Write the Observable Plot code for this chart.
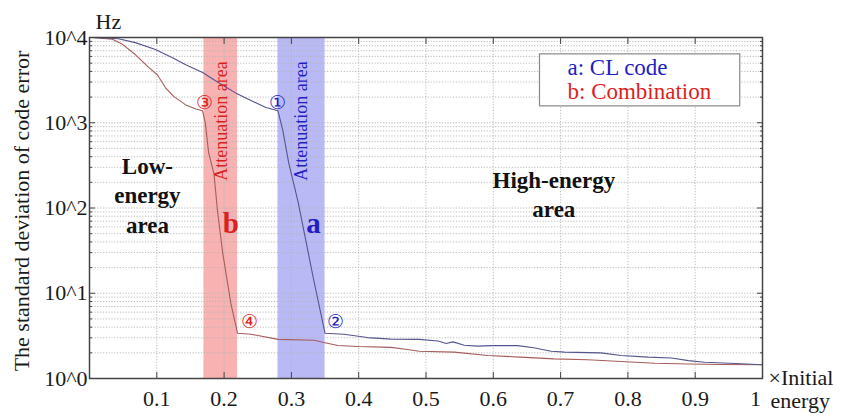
<!DOCTYPE html>
<html>
<head>
<meta charset="utf-8">
<script src="https://cdn.jsdelivr.net/npm/d3@7"></script>
<script src="https://cdn.jsdelivr.net/npm/@observablehq/plot@0.6"></script>
<style>
  body { margin: 0; background: #fff; }
  #chart svg, #chart svg text { font-family: "Liberation Serif", serif; }
</style>
</head>
<body>
<div id="chart"></div>
<script>
// ---- data ----
const energyA = [0.005,0.043,0.068,0.098,0.124,0.143,0.168,0.192,0.217,0.243,0.262,0.280,0.287,0.296,0.310,0.333,0.350,0.378,0.413,0.448,0.490,0.518,0.530,0.540,0.557,0.577,0.597,0.636,0.660,0.686,0.706,0.760,0.790,0.830,0.865,0.890,0.914,0.960,1.000];
const sdA     = [10000,9660,8710,7240,5750,4790,3890,2950,2240,1780,1510,1380,832,339,117,14.5,3.39,3.31,3.02,2.90,2.88,2.75,2.57,2.69,2.45,2.40,2.43,2.43,2.29,2.09,2.04,2.00,1.86,1.78,1.74,1.62,1.55,1.50,1.45];
const energyB = [0.005,0.034,0.049,0.068,0.088,0.101,0.113,0.125,0.143,0.158,0.168,0.172,0.177,0.185,0.190,0.198,0.210,0.220,0.240,0.280,0.334,0.348,0.369,0.400,0.448,0.470,0.490,0.542,0.592,0.640,0.690,0.740,0.790,0.840,0.890,0.940,1.000];
const sdB     = [10000,9550,8320,6310,4470,3630,2570,2040,1620,1450,1380,1000,447,251,95.5,29.5,7.59,3.39,3.31,2.88,2.81,2.65,2.44,2.37,2.32,2.20,2.09,2.04,1.86,1.78,1.70,1.66,1.58,1.51,1.48,1.46,1.45];

const xTicks = [0.1,0.2,0.3,0.4,0.5,0.6,0.7,0.8,0.9,1];
const xTickLabels = ["0.1","0.2","0.3","0.4","0.5","0.6","0.7","0.8","0.9","1"];
const yTicks = [1,10,100,1000,10000];
const yTickLabels = ["10^0","10^1","10^2","10^3","10^4"];
const minorMantissas = [2,3,4,5,6,7,8,9];
const minorY = yTicks.slice(0, -1).flatMap(p => minorMantissas.map(m => m * p));

const bandSeries = ["b", "a"];
const bandStart = [0.17, 0.28];
const bandEnd = [0.22, 0.35];

const legendLabels = ["a: CL code", "b: Combination"];
const legendSeries = ["a", "b"];

// annotations (data coordinates)
const areaLabels = ["Low-\nenergy\narea", "High-energy\narea"];
const areaX = [0.086, 0.69];
const areaY = [146, 150];
const curveLetters = ["b", "a"];
const letterX = [0.21, 0.333];
const letterY = [66, 65];
const attenX = [0.195, 0.314];
const attenY = [1050, 1050];
const pointMarks = ["③", "①", "④", "②"];
const pointSeries = ["b", "a", "b", "a"];
const pointX = [0.171, 0.28, 0.238, 0.365];
const pointY = [1720, 1720, 4.56, 4.56];

// ---- tables ----
const tableA = energyA.map((x, i) => ({x, y: sdA[i]}));
const tableB = energyB.map((x, i) => ({x, y: sdB[i]}));
const bands = bandSeries.map((s, i) => ({s, x1: bandStart[i], x2: bandEnd[i]}));
const xLabelMap = new Map(xTicks.map((t, i) => [t, xTickLabels[i]]));
const yLabelMap = new Map(yTicks.map((t, i) => [t, yTickLabels[i]]));
const xTicksInner = xTicks.slice(0, -1);
const xTicksLast = xTicks.slice(-1);

const serif = "Liberation Serif";
const circled = "Noto Sans CJK JP";
const bandColor = {b: "#f8b2b2", a: "#b9b9f6"};
const textColor = {a: "#1f1fc4", b: "#dc1f1f"};
const lineColorA = "#55558f";
const lineColorB = "#a65c5c";
const gridColor = "#b4b4b4";
const frameColor = "#444";
const ink = "#1a1a1a";

const chart = Plot.plot({
  width: 841,
  height: 417,
  marginLeft: 89,
  marginRight: 79,
  marginTop: 37,
  marginBottom: 39,
  style: {fontFamily: serif, fontSize: "22px", background: "#fff", color: ink},
  x: {domain: [0, 1]},
  y: {type: "log", domain: [1, 10000]},
  marks: [
    // shaded attenuation bands
    Plot.rect(bands, {x1: "x1", x2: "x2", fill: d => bandColor[d.s]}),
    // grid
    Plot.ruleY(minorY, {stroke: gridColor, strokeWidth: 0.9, strokeDasharray: "1.2,1.6"}),
    Plot.ruleY(yTicks, {stroke: gridColor, strokeWidth: 0.9, strokeDasharray: "1.2,1.6"}),
    Plot.ruleX(xTicks, {stroke: gridColor, strokeWidth: 0.9, strokeDasharray: "1.2,1.6"}),
    // curves
    Plot.line(tableB, {x: "x", y: "y", stroke: lineColorB, strokeWidth: 1.1}),
    Plot.line(tableA, {x: "x", y: "y", stroke: lineColorA, strokeWidth: 1.1}),
    // frame
    Plot.frame({stroke: frameColor, strokeWidth: 1.5}),
    // inward ticks
    Plot.axisX(xTicks, {anchor: "bottom", tickSize: -6, tickFormat: () => "", label: null, stroke: frameColor}),
    Plot.axisX(xTicks, {anchor: "top", tickSize: -6, tickFormat: () => "", label: null, stroke: frameColor}),
    Plot.axisY(yTicks, {anchor: "left", tickSize: -6, tickFormat: () => "", label: null, stroke: frameColor}),
    Plot.axisY(yTicks, {anchor: "right", tickSize: -6, tickFormat: () => "", label: null, stroke: frameColor}),
    Plot.axisY(minorY, {anchor: "left", tickSize: -3, tickFormat: () => "", label: null, stroke: frameColor}),
    Plot.axisY(minorY, {anchor: "right", tickSize: -3, tickFormat: () => "", label: null, stroke: frameColor}),
    // tick labels
    Plot.axisX(xTicksInner, {anchor: "bottom", tickSize: 0, tickPadding: 12, tickFormat: d => xLabelMap.get(d), label: null, fontSize: 22, fontFamily: serif, fill: ink}),
    Plot.axisX(xTicksLast, {anchor: "bottom", tickSize: 0, tickPadding: 12, dx: -7, tickFormat: d => xLabelMap.get(d), label: null, fontSize: 22, fontFamily: serif, fill: ink}),
    Plot.axisY(yTicks, {anchor: "left", tickSize: 0, tickPadding: 2, tickFormat: d => yLabelMap.get(d), label: null, fontSize: 22, fontFamily: serif, fill: ink}),
    // axis titles
    Plot.text(["Hz"], {frameAnchor: "top-left", textAnchor: "start", lineAnchor: "middle", dx: 6, dy: -16, fontSize: 22, fontFamily: serif, fill: ink}),
    Plot.text(["The standard deviation of code error"], {frameAnchor: "left", textAnchor: "middle", lineAnchor: "middle", rotate: -90, dx: -68, dy: 3, fontSize: 22, fontFamily: serif, fill: ink}),
    Plot.text(["×Initial"], {frameAnchor: "bottom-right", textAnchor: "start", lineAnchor: "middle", dx: 6, dy: -1, fontSize: 22, fontFamily: serif, fill: ink}),
    Plot.text(["energy"], {frameAnchor: "bottom-right", textAnchor: "start", lineAnchor: "middle", dx: 8, dy: 22, fontSize: 22, fontFamily: serif, fill: ink}),
    // attenuation area labels
    Plot.text(bandSeries, {x: (d, i) => attenX[i], y: (d, i) => attenY[i], text: () => "Attenuation area", rotate: -90, fontSize: 18, fontFamily: serif, fill: d => textColor[d]}),
    // region labels
    Plot.text(areaLabels, {x: (d, i) => areaX[i], y: (d, i) => areaY[i], text: d => d, fontSize: 23, fontWeight: "bold", fontFamily: serif, lineHeight: 1.27, fill: "#111"}),
    // curve letters
    Plot.text(curveLetters, {x: (d, i) => letterX[i], y: (d, i) => letterY[i], text: d => d, fontSize: 29, fontWeight: "bold", fontFamily: serif, fill: d => textColor[d]}),
    // circled point markers
    Plot.text(pointMarks, {x: (d, i) => pointX[i], y: (d, i) => pointY[i], text: d => d, fontSize: 19, fontFamily: circled, fill: (d, i) => textColor[pointSeries[i]]}),
    // legend entries
    ...legendLabels.map((label, i) => Plot.text([label], {
      frameAnchor: "top-right", textAnchor: "start", lineAnchor: "middle",
      dx: -195, dy: 30 + 24 * i, fontSize: 23, fontFamily: serif, fill: textColor[legendSeries[i]]
    }))
  ]
});

document.getElementById("chart").appendChild(chart);

// box around the legend entries, sized from their rendered text
const legendTexts = d3.select(chart).selectAll("text").filter(function () {
  return legendLabels.includes(this.textContent);
}).nodes();
if (legendTexts.length) {
  const svgRect = chart.getBoundingClientRect();
  let x0 = Infinity, y0 = Infinity, x1 = -Infinity, y1 = -Infinity;
  for (const t of legendTexts) {
    const r = t.getBoundingClientRect();
    x0 = Math.min(x0, r.left - svgRect.left); y0 = Math.min(y0, r.top - svgRect.top);
    x1 = Math.max(x1, r.right - svgRect.left); y1 = Math.max(y1, r.bottom - svgRect.top);
  }
  const firstGroup = legendTexts[0].closest("g");
  d3.select(firstGroup.parentNode).insert("rect", () => firstGroup)
    .attr("x", x0 - 28).attr("y", y0 - 1)
    .attr("width", (x1 - x0) + 56).attr("height", (y1 - y0) + 3)
    .attr("fill", "#fff").attr("stroke", "#888").attr("stroke-width", 1.2);
}
</script>
</body>
</html>
